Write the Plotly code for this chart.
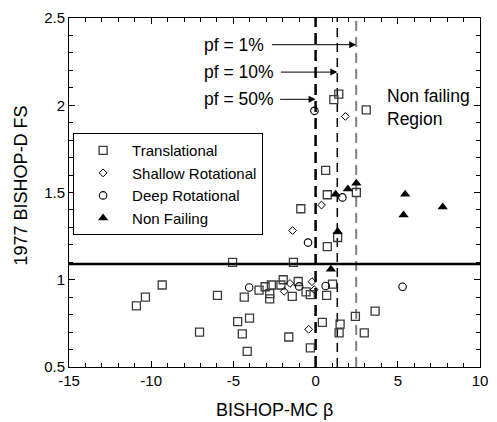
import plotly.graph_objects as go

# ---- data ----
trans_x = [-5.05, -9.33, -10.35, -10.9, -5.97, -7.06, -4.74, -4.46, -4.16, -4.02, -4.34, -3.44, -3.07,
           -2.69, -2.79, -2.79, -2.11, -1.97, -1.42, -1.06, -0.58, -0.32, 1.03, 0.67, 0.41, 1.49, 1.43,
           2.42, 3.62, 2.96, -1.63, -0.32, -1.35, 0.71, 1.34, 1.41, 1.11, 3.08, 0.61, 0.71, 2.48, -0.9]
trans_y = [1.10, 0.97, 0.90, 0.85, 0.91, 0.70, 0.76, 0.69, 0.59, 0.78, 0.90, 0.94, 0.96,
           0.97, 0.92, 0.89, 0.97, 1.00, 0.905, 0.99, 0.93, 0.915, 0.975, 0.91, 0.756, 0.746, 0.695,
           0.79, 0.82, 0.695, 0.672, 0.61, 1.10, 1.19, 1.242, 2.064, 2.032, 1.973, 1.627, 1.487, 1.50, 1.407]

shallow_x = [-1.91, -1.56, -0.22, -0.08, -0.42, 1.81, 0.36, -1.4]
shallow_y = [0.934, 0.979, 0.989, 0.943, 0.716, 1.936, 1.428, 1.282]

deep_x = [-4.04, -1.0, 0.61, 5.29, -0.46, -0.07, 1.63]
deep_y = [0.956, 0.962, 0.964, 0.96, 1.213, 1.968, 1.472]

nonf_x = [1.34, 0.93, 1.22, 1.96, 2.48, 5.45, 5.35, 7.73]
nonf_y = [1.277, 1.06, 1.49, 1.52, 1.553, 1.49, 1.371, 1.417]

x_tickvals = [-15, -10, -5, 0, 5, 10]
x_ticktext = ["-15", "-10", "-5", "0", "5", "10"]
y_tickvals = [0.5, 1, 1.5, 2, 2.5]
y_ticktext = ["0.5", "1", "1.5", "2", "2.5"]

pf_labels = ["pf = 1%", "pf = 10%", "pf = 50%"]
pf_beta = [2.47, 1.32, 0.0]
pf_label_y = [2.347, 2.19, 2.034]
fs_line = 1.09

FONT = "Liberation Sans, Arial, sans-serif"

fig = go.Figure()
fig.add_trace(go.Scatter(x=trans_x, y=trans_y, mode="markers", name="Translational",
                         marker=dict(symbol="square-open", size=8, color="#3a3a3a", line=dict(width=1.3))))
fig.add_trace(go.Scatter(x=shallow_x, y=shallow_y, mode="markers", name="Shallow Rotational",
                         marker=dict(symbol="diamond-open", size=6, color="black", line=dict(width=1))))
fig.add_trace(go.Scatter(x=deep_x, y=deep_y, mode="markers", name="Deep Rotational",
                         marker=dict(symbol="circle-open", size=7.5, color="black", line=dict(width=1.1))))
fig.add_trace(go.Scatter(x=nonf_x, y=nonf_y, mode="markers", name="Non Failing",
                         marker=dict(symbol="triangle-up", size=9, color="black", line=dict(width=0))))

# horizontal FS line
fig.add_shape(type="line", xref="paper", x0=0, x1=1, yref="y", y0=fs_line, y1=fs_line,
              line=dict(color="black", width=2.5))
# vertical pf lines
line_styles = [dict(color="#808080", width=2, dash="10px,6px"),
               dict(color="black", width=1.5, dash="9px,6px"),
               dict(color="black", width=2.5, dash="11px,6px")]
for b, st in zip(pf_beta, line_styles):
    fig.add_shape(type="line", xref="x", x0=b, x1=b, yref="paper", y0=0, y1=1, line=st, layer="below")

# pf labels and arrows
arrow_start = [-2.75, -2.2, -2.25]
for lab, b, yy, a0 in zip(pf_labels, pf_beta, pf_label_y, arrow_start):
    fig.add_annotation(x=-6.9, y=yy, text=lab, showarrow=False, xanchor="left", yanchor="middle",
                       font=dict(family=FONT, size=17.5, color="black"))
    fig.add_annotation(x=b, y=yy, ax=a0, ay=yy, axref="x", ayref="y", xref="x", yref="y",
                       text="", showarrow=True, arrowhead=2, arrowsize=1.4, arrowwidth=1,
                       arrowcolor="black", standoff=0)

fig.add_annotation(x=4.25, y=1.985, text="Non failing<br>Region", showarrow=False,
                   xanchor="left", yanchor="middle", align="left",
                   font=dict(family=FONT, size=17.5, color="black"))

# axis titles (placed explicitly)
fig.add_annotation(xref="paper", yref="paper", x=0.5, y=-0.122, text="BISHOP-MC β", showarrow=False,
                   xanchor="center", yanchor="middle", font=dict(family=FONT, size=18, color="black"))
fig.add_annotation(xref="paper", yref="paper", x=-0.117, y=0.52, text="1977 BISHOP-D FS", showarrow=False,
                   textangle=-90, xanchor="center", yanchor="middle",
                   font=dict(family=FONT, size=18, color="black"))

axis_common = dict(showline=True, linecolor="black", linewidth=1, mirror="ticks", ticks="inside",
                   tickcolor="black", ticklen=6, showgrid=False, zeroline=False,
                   tickfont=dict(family=FONT, size=15, color="black"))
fig.update_xaxes(range=[-15, 10], tickmode="array", tickvals=x_tickvals, ticktext=x_ticktext,
                 minor=dict(dtick=1, tick0=0, ticks="inside", ticklen=4, tickcolor="black"),
                 **axis_common)
fig.update_yaxes(range=[0.5, 2.5], tickmode="array", tickvals=y_tickvals, ticktext=y_ticktext,
                 minor=dict(dtick=0.1, tick0=0.5, ticks="inside", ticklen=4, tickcolor="black"),
                 **axis_common)

fig.update_layout(width=497, height=422, margin=dict(l=69, r=9, t=15, b=55),
                  paper_bgcolor="white", plot_bgcolor="white",
                  font=dict(family=FONT, color="black"),
                  legend=dict(x=0.01, y=0.67, xanchor="left", yanchor="top",
                              bordercolor="black", borderwidth=1, bgcolor="white",
                              font=dict(family=FONT, size=15, color="black"),
                              itemwidth=48, tracegroupgap=0))
fig.write_html("out.html", config={"displayModeBar": False},
               post_script="document.body.style.margin='0';document.body.style.padding='0';"
                           "document.body.style.overflow='hidden';")
